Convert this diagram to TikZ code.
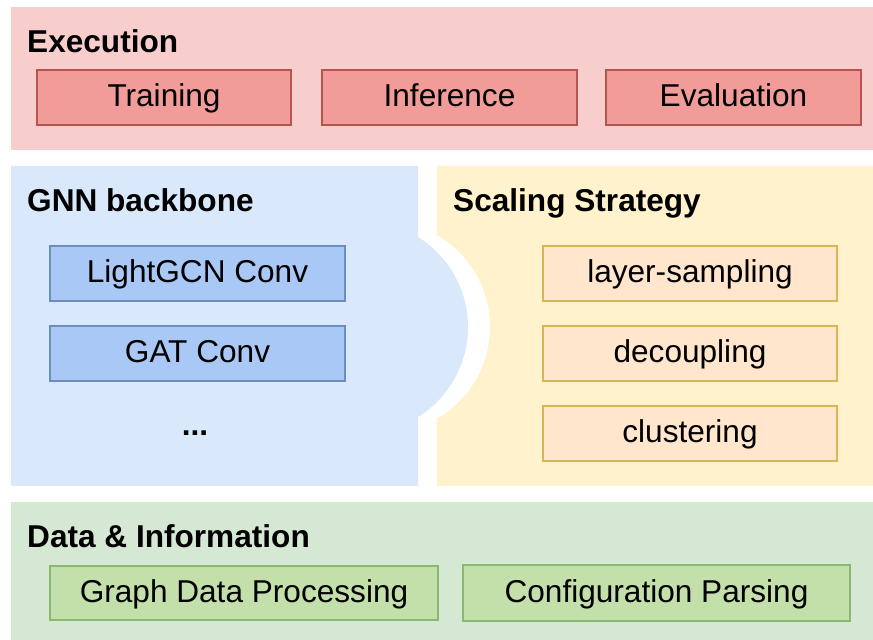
\documentclass[tikz,border=0pt]{standalone}
\usepackage{fontspec}
\setmainfont{Liberation Sans}
\definecolor{execpanel}{HTML}{F8CECC}
\definecolor{execfill}{HTML}{F19C99}
\definecolor{execline}{HTML}{B85450}
\definecolor{gnnpanel}{HTML}{DAE8FC}
\definecolor{gnnfill}{HTML}{A9C8F5}
\definecolor{gnnline}{HTML}{6C8EBF}
\definecolor{scalepanel}{HTML}{FFF2CC}
\definecolor{scalefill}{HTML}{FFE6CC}
\definecolor{scaleline}{HTML}{D6B656}
\definecolor{datapanel}{HTML}{D5E8D4}
\definecolor{datafill}{HTML}{C3E0AA}
\definecolor{dataline}{HTML}{8AB870}
\begin{document}
\begin{tikzpicture}[x=1pt,y=1pt,
  modbox/.style={draw, line width=1.5pt, inner sep=0pt, minimum height=55pt,
    font=\fontsize{31.6}{36}\selectfont, text height=23.5pt, text depth=4.8pt},
  execbox/.style={modbox, fill=execfill, draw=execline},
  gnnbox/.style={modbox, fill=gnnfill, draw=gnnline},
  scalebox/.style={modbox, fill=scalefill, draw=scaleline},
  databox/.style={modbox, fill=datafill, draw=dataline},
  paneltitle/.style={anchor=base west, inner sep=0pt, font=\fontsize{31.6}{36}\selectfont\bfseries}]
\useasboundingbox (0,0) rectangle (873,640);

% layer panels
\fill[execpanel] (11,633) rectangle (873,490);
\fill[gnnpanel] (11,474) -- (418,474) -- (418,403)
  arc[start angle=58.1, end angle=-58.1, radius=106] -- (418,154) -- (11,154) -- cycle;
\fill[scalepanel] (437,474) -- (873,474) -- (873,154) -- (437,154) -- (437,221.2)
  arc[start angle=-60, end angle=60, radius=106] -- cycle;
\fill[datapanel] (11,138) rectangle (873,0);

% panel titles
\node[paneltitle] (texec) at (27,587) {Execution};
\node[paneltitle] (tgnn) at (27,428) {GNN backbone};
\node[paneltitle] (tscale) at (453,428) {Scaling Strategy};
\node[paneltitle] (tdata) at (27,92) {Data \& Information};

% execution
\node[execbox, minimum width=254pt] (train) at (164,542.5) {Training};
\node[execbox, minimum width=255pt] (infer) at (449.5,542.5) {Inference};
\node[execbox, minimum width=255pt] (eval) at (733.5,542.5) {Evaluation};

% GNN backbone
\node[gnnbox, minimum width=295pt] (lgcn) at (197.5,366.5) {LightGCN Conv};
\node[gnnbox, minimum width=295pt] (gat) at (197.5,286.5) {GAT Conv};
\node[anchor=base, inner sep=0pt, font=\fontsize{31.6}{36}\selectfont\bfseries] (more) at (195,204) {...};

% scaling strategy
\node[scalebox, minimum width=294pt] (layer) at (690,366.5) {layer-sampling};
\node[scalebox, minimum width=294pt] (decoup) at (690,286.5) {decoupling};
\node[scalebox, minimum width=294pt] (clust) at (690,206.5) {clustering};

% data & information
\node[databox, minimum width=388pt, minimum height=54pt] (graph) at (244,47) {Graph Data Processing};
\node[databox, minimum width=387pt, minimum height=56pt] (config) at (656.5,47) {Configuration Parsing};
\end{tikzpicture}
\end{document}
